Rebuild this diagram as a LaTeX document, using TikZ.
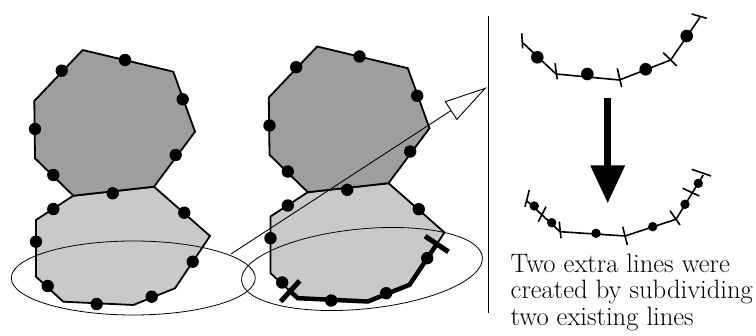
\documentclass[tikz,border=0pt]{standalone}
\usepackage{fontspec}
\usetikzlibrary{arrows.meta,calc}
\definecolor{topgray}{RGB}{158,158,158}
\definecolor{lowgray}{RGB}{200,201,203}
\begin{document}
\begin{tikzpicture}[x=1pt,y=-1pt,line join=miter,
	cell/.style={draw,line width=1.8pt},
	ring/.style={draw,line width=0.8pt},
	seg/.style={line width=1.6pt},
	cut/.style={line width=4.5pt},
	cutbar/.style={line width=5pt}]
	\useasboundingbox (0,0) rectangle (756,336);
	% the two cells, plain and with the marked boundary
	\foreach \dx/\dy in {0/0,234.5/-3.5}{
		\begin{scope}[shift={(\dx,\dy)}]
			\filldraw[cell,fill=lowgray](73.3,195.7)--(154,186.7)--(210,236)--(175,288.3)--(133.3,305)--(63.3,301.7)--(36,276.7)--(36,220)--cycle;
			\filldraw[cell,fill=topgray](82.7,50)--(173.3,71.7)--(195,131.7)--(154,186.7)--(73.3,195.7)--(35,158.3)--(34.3,101)--cycle;
			\foreach \p in {(61.7,70.7),(125,60),(182.7,99.3),(175.7,155),(112.7,193.3),(53.3,175),(35,129),
				(53.3,209),(36,241.7),(47.7,286),(96.7,304),(151.7,296.7),(192.7,261.7),(184.3,212.7)}
				\fill \p circle (6.2pt);
		\end{scope}}
	\begin{scope}[shift={(234.5,-3.5)}]
		\coordinate (lA) at (36,276.7);
		\coordinate (lB) at (63.3,301.7);
		\coordinate (lC) at (133.3,305);
		\coordinate (lD) at (175,288.3);
		\coordinate (lE) at (210,236);
	\end{scope}
	\coordinate (cutL) at ($(lA)!0.72!(lB)$);
	\coordinate (cutR) at ($(lD)!0.78!(lE)$);
	\draw[cut] (cutL)--(lB)--(lC)--(lD)--(cutR);
	\draw[cutbar] ($(cutL)!14pt!90:(lB)$)--($(cutL)!14pt!-90:(lB)$);
	\draw[cutbar] ($(cutR)!14pt!90:(lE)$)--($(cutR)!14pt!-90:(lE)$);
	% selection rings and the pointer
	\draw[ring](133.3,278) ellipse [x radius=122,y radius=37];
	\draw[ring,rotate around={5.6:(362,269)}](362,269) ellipse [x radius=121,y radius=40];
	\coordinate (tail) at (231,254);
	\coordinate (tip) at (486.7,87.3);
	\draw[line width=0.9pt,-{Triangle[open,length=43pt,width=22pt]}] (tail)--(tip);
	\draw[line width=1.2pt](488.3,16)--(488.3,313);
	% the boundary before
	\draw[seg](523,43)--(556,74)--(619.3,80)--(670.7,60)--(700,17.3);
	\draw[seg](521.7,33.3)--(522.7,48.3);
	\draw[seg](555,63.3)--(557.3,79.3);
	\draw[seg](617.3,68.3)--(621.7,87.3);
	\draw[seg](663.3,52.7)--(676.7,66);
	\draw[seg](691.7,14)--(706.7,18.3);
	\foreach \p in {(537.3,57.3),(587.3,74),(645.7,69.3),(686.7,36)}
		\fill \p circle (6.3pt);
	\coordinate (stemtop) at (607.7,98.3);
	\coordinate (stemend) at (607.7,203.3);
	\draw[line width=7pt,-{Triangle[length=38pt,width=33pt]}] (stemtop)--(stemend);
	% the boundary after
	\draw[seg](526.7,200.7)--(560,231.7)--(625,236)--(676,219.3)--(703.3,175);
	\draw[seg](525,206.7)--(529.3,190);
	\draw[seg](538.3,221.7)--(546,206.7);
	\draw[seg](559.3,221.7)--(561,238.3);
	\draw[seg](622.7,226.7)--(627.3,245);
	\draw[seg](670,210.7)--(680,225);
	\draw[seg](682.7,188.3)--(699.3,196);
	\draw[seg](691.7,169.3)--(711,176);
	\foreach \p in {(534.3,206),(551.7,222.7),(596,233.3),(652.7,226.7),(685,204.3),(698.3,183.3)}
		\fill \p circle (4.7pt);
	\node[anchor=north west,align=left,inner sep=0pt,font=\fontsize{26.6}{26.4}\selectfont] (note) at (510.5,253.9)
		{Two extra lines were\\created by subdividing\\two existing lines};
\end{tikzpicture}
\end{document}
